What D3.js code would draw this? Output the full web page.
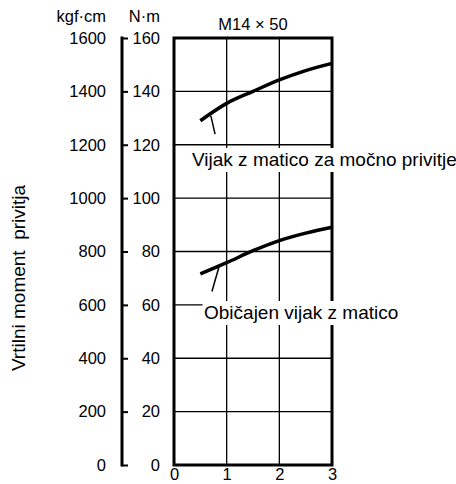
<!DOCTYPE html>
<html>
<head>
<meta charset="utf-8">
<script src="https://cdn.jsdelivr.net/npm/d3@7"></script>
<style>
  html, body { margin: 0; padding: 0; background: #fff; }
  svg { display: block; font-family: "Liberation Sans", Arial, Helvetica, sans-serif; }
</style>
</head>
<body>
<svg id="chart" width="456" height="484"></svg>
<script>
// ---- data ----
const xTicks = [0, 1, 2, 3];
const nmTicks = [0, 20, 40, 60, 80, 100, 120, 140, 160];
const kgfTicks = [0, 200, 400, 600, 800, 1000, 1200, 1400, 1600];
const xValues = [0.5, 1, 1.5, 2, 2.5, 3];
const strongNut = [129, 135.5, 140, 144.3, 147.8, 150.5];   // N·m
const normalNut = [71.6, 75.8, 80.3, 84.1, 86.9, 89.1];     // N·m
const title = "M14 × 50";
const yLabel = "Vrtilni moment  privitja";
const unitKgf = "kgf·cm";
const unitNm = "N·m";
const labelStrong = "Vijak z matico za močno privitje";
const labelNormal = "Običajen vijak z matico";
// leader lines [x, N·m]
const leaderStrong = [[0.70, 130.8], [0.78, 124]];
const leaderNormal = [[0.855, 74.3], [0.72, 65]];

// ---- layout ----
const svg = d3.select("#chart");
const L = 174, R = 332, T = 38, B = 465;
const x = d3.scaleLinear().domain([0, 3]).range([L, R]);
const y = d3.scaleLinear().domain([0, 160]).range([B, T]);
const yKgf = d3.scaleLinear().domain([0, 1600]).range([B, T]);

// grid
const g = svg.append("g");
g.selectAll("line.h").data(nmTicks.filter(d => d > 0 && d < 160)).enter().append("line")
  .attr("x1", L).attr("x2", R).attr("y1", d => y(d)).attr("y2", d => y(d))
  .attr("stroke", "#000").attr("stroke-width", 1.3);
g.selectAll("line.v").data(xTicks.filter(d => d > 0 && d < 3)).enter().append("line")
  .attr("x1", d => x(d)).attr("x2", d => x(d)).attr("y1", T).attr("y2", B)
  .attr("stroke", "#000").attr("stroke-width", 1.3);

// frame
svg.append("rect").attr("x", L).attr("y", T).attr("width", R - L).attr("height", B - T)
  .attr("fill", "none").attr("stroke", "#000").attr("stroke-width", 3);

// curves
const line = d3.line().x(d => x(d[0])).y(d => y(d[1])).curve(d3.curveMonotoneX);
[strongNut, normalNut].forEach(s => {
  svg.append("path").datum(xValues.map((v, i) => [v, s[i]]))
    .attr("d", line).attr("fill", "none").attr("stroke", "#000").attr("stroke-width", 3.5);
});
const straight = d3.line().x(d => x(d[0])).y(d => y(d[1]));
[leaderStrong, leaderNormal].forEach(l => {
  svg.append("path").datum(l).attr("d", straight).attr("fill", "none")
    .attr("stroke", "#000").attr("stroke-width", 1.5);
});

// annotation labels with white background
function label(text, xp, yp, pad) {
  const t = svg.append("text").attr("x", xp).attr("y", yp).attr("font-size", 19).text(text);
  const bb = t.node().getBBox();
  svg.insert("rect", () => t.node())
    .attr("x", bb.x - pad).attr("y", bb.y - 1).attr("width", bb.width + 2 * pad).attr("height", bb.height + 3)
    .attr("fill", "#fff");
}
label(labelStrong, 192, 166, 3);
label(labelNormal, 204, 319, 1.5);

// N·m axis
const nmX = 122;
const axNm = d3.axisRight(y).tickValues(nmTicks).tickSize(6).tickFormat(d3.format("d"));
const gNm = svg.append("g").attr("transform", `translate(${nmX},0)`).call(axNm);
gNm.select(".domain").remove();
gNm.append("line").attr("x1", 0).attr("x2", 0).attr("y1", T - 1.5).attr("y2", B + 1.5)
  .attr("stroke", "#000").attr("stroke-width", 3);
gNm.selectAll(".tick line").attr("stroke", "#000").attr("stroke-width", 2);
gNm.selectAll(".tick text").attr("x", 38).attr("text-anchor", "end")
  .attr("font-size", 16.5).attr("font-family", "Liberation Sans, Arial, sans-serif").attr("fill", "#000");

// kgf·cm labels (text only)
const axK = d3.axisLeft(yKgf).tickValues(kgfTicks).tickSize(0).tickFormat(d3.format("d"));
const gK = svg.append("g").attr("transform", `translate(106,0)`).call(axK);
gK.select(".domain").remove();
gK.selectAll(".tick text").attr("x", 0).attr("text-anchor", "end")
  .attr("font-size", 16.5).attr("font-family", "Liberation Sans, Arial, sans-serif").attr("fill", "#000");

// x axis labels
const axX = d3.axisBottom(x).tickValues(xTicks).tickSize(0).tickFormat(d3.format("d"));
const gX = svg.append("g").attr("transform", `translate(0,${B})`).call(axX);
gX.select(".domain").remove();
gX.selectAll(".tick text").attr("y", 3).attr("font-size", 16.5)
  .attr("font-family", "Liberation Sans, Arial, sans-serif").attr("fill", "#000");

// units and title
svg.append("text").attr("x", 106).attr("y", 22).attr("text-anchor", "end").attr("font-size", 16.5).text(unitKgf);
svg.append("text").attr("x", 160).attr("y", 22).attr("text-anchor", "end").attr("font-size", 16.5).text(unitNm);
svg.append("text").attr("x", (L + R) / 2).attr("y", 30).attr("text-anchor", "middle").attr("font-size", 16.5).text(title);

// y label
svg.append("text").attr("transform", "translate(25,278) rotate(-90)")
  .attr("text-anchor", "middle").attr("font-size", 19).style("white-space", "pre").text(yLabel);
</script>
</body>
</html>
